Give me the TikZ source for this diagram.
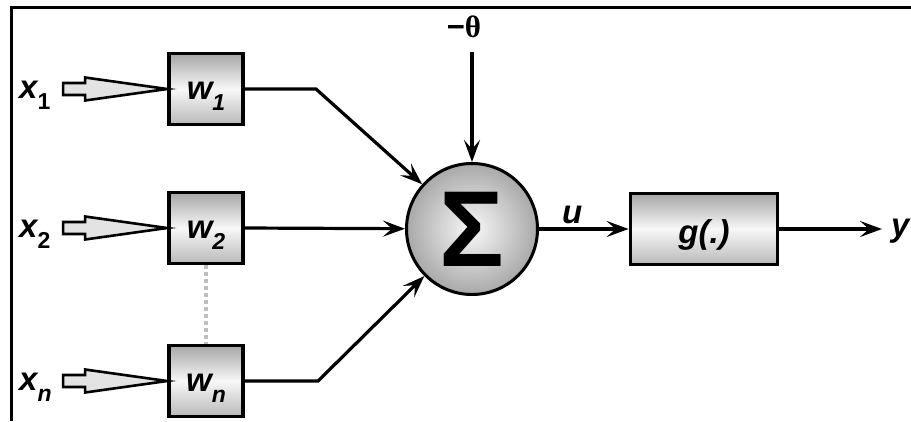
\documentclass[tikz,border=0pt]{standalone}
\usepackage{fontspec}
\setmainfont{Liberation Sans}
\newfontfamily\serifgr{Liberation Serif}
\usetikzlibrary{arrows.meta,calc}
\newcommand\mysub[1]{\raisebox{-11pt}{\fontsize{23}{23}\selectfont #1}}
\newcommand\hollowarrow[1]{%
  \filldraw[line width=2.6pt,fill=gray!22]
    ($(#1.west)+(-104,-6)$) -- ($(#1.west)+(-82,-6)$) -- ($(#1.west)+(-82,-11.5)$)
    -- (#1.west) -- ($(#1.west)+(-82,11.5)$) -- ($(#1.west)+(-82,6)$)
    -- ($(#1.west)+(-104,6)$) -- cycle;}
\begin{document}
\begin{tikzpicture}[x=1pt,y=-1pt,
  conn/.style={line width=3.2pt,-{Stealth[length=22pt,width=16pt,inset=9pt]}},
  wbox/.style={draw,line width=3.8pt,inner sep=0pt,minimum width=74pt,minimum height=71pt,
    text height=31pt,text depth=11pt,
    top color=gray!70,bottom color=gray!55,middle color=gray!6,
    font=\fontsize{33}{33}\selectfont\bfseries\itshape},
  lbl/.style={inner sep=0pt,font=\fontsize{33}{33}\selectfont\bfseries\itshape},
  sumnode/.style={circle,draw,line width=3pt,minimum size=131pt,inner sep=0pt,
    inner color=gray!5,outer color=gray!68},
  dots/.style={line width=4pt,gray!50,dash pattern=on 4pt off 3pt}
]
\useasboundingbox (0,0) rectangle (911,421);
% frame
\draw[line width=3pt] (11,421) -- (11,7) -- (911,7);

% weight boxes
\node[wbox] (w1) at (206,89) {w\mysub{1}};
\node[wbox] (w2) at (206,228) {w\mysub{2}};
\node[wbox] (wn) at (206,381) {w\mysub{n}};

% input labels
\node[lbl,anchor=base west] (x1) at (19,98) {x\mysub{\upshape 1}};
\node[lbl,anchor=base west] (x2) at (19,237) {x\mysub{\upshape 2}};
\node[lbl,anchor=base west] (xn) at (19,390) {x\mysub{n}};

% hollow input arrows
\hollowarrow{w1}
\hollowarrow{w2}
\hollowarrow{wn}

% dotted link
\draw[dots] (w2.south) -- (wn.north);

% summation
\node[sumnode] (sum) at (472,229) {\fontsize{108}{108}\selectfont\bfseries Σ};

% threshold
\node[inner sep=0pt] (theta) at (464,27) {\fontsize{31}{31}\selectfont\bfseries −\serifgr θ};
\coordinate (thstart) at (472,52);
\draw[conn] (thstart) -- (sum);

% weights to sum
\coordinate (b1) at (316,89);
\coordinate (bn) at (318,381);
\draw[conn] (w1.east) -- (b1) -- (sum);
\draw[conn] (w2.east) -- (sum);
\draw[conn] (wn.east) -- (bn) -- (sum);

% activation
\node[wbox,minimum width=147pt,text height=35pt,text depth=7pt] (g) at (704,229) {g(.)};
\node[lbl,anchor=base west] (u) at (562,223) {u};
\draw[conn] (sum) -- (g);

% output
\coordinate (yout) at (882,229);
\draw[conn] (g.east) -- (yout);
\node[lbl,anchor=base west] (y) at (891,236) {y};
\end{tikzpicture}
\end{document}
